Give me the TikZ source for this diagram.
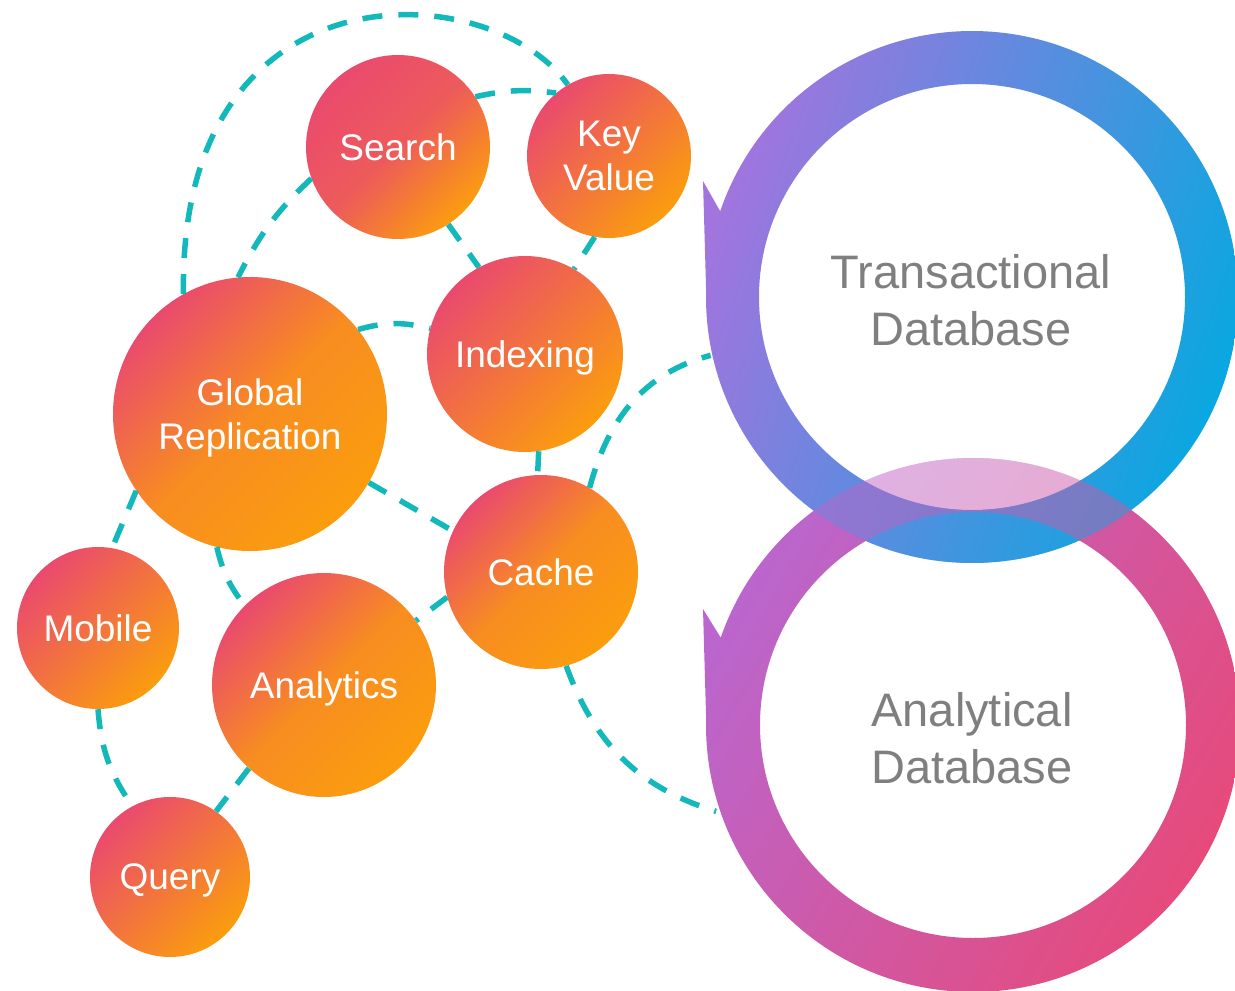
\documentclass[tikz,border=0pt]{standalone}
\usepackage{fontspec}
\setmainfont{Liberation Sans}

\definecolor{pinkc}{RGB}{234,74,110}
\definecolor{orangec}{RGB}{251,157,14}
\definecolor{linkc}{RGB}{18,184,186}
\definecolor{dbgray}{RGB}{127,127,127}
\definecolor{tpurple}{RGB}{162,116,222}
\definecolor{tcyan}{RGB}{8,168,224}
\definecolor{apurple}{RGB}{186,102,206}
\definecolor{apink}{RGB}{230,74,122}

\newcommand\bubblefont{\fontsize{37}{44}\selectfont}
\newcommand\dbfont{\fontsize{47}{57}\selectfont}

\begin{document}
\begin{tikzpicture}[
    x=1pt, y=1pt,
    bubble/.style={circle, minimum size=#1, inner sep=0pt, text depth=0pt,
        top color=pinkc, bottom color=orangec, shading angle=45,
        text=white, align=center, font=\bubblefont},
    pinker/.style={middle color=pinkc!80!orangec},
    oranger/.style={middle color=orangec!80!pinkc},
    dbtext/.style={circle, minimum size=532pt, inner sep=0pt,
        text=dbgray, align=center, font=\dbfont},
    link/.style={draw=linkc, line width=5.5pt, dash pattern=on 20pt off 16pt},
    tring/.style={even odd rule, top color=tpurple, bottom color=tcyan, shading angle=70},
    aring/.style={even odd rule, top color=apurple, bottom color=apink, shading angle=60},
  ]
\useasboundingbox (0,0) rectangle (1235,-991);

% rings
\shade[tring] (972,-297) ++(178.5:266) arc[start angle=178.5, end angle=521.2, radius=266]
    -- (703,-181) -- cycle (972,-297) circle[radius=213];
\shade[aring] (973,-725) ++(178.5:267) arc[start angle=178.5, end angle=520.9, radius=267]
    -- (703,-609) -- cycle (973,-725) circle[radius=213];
% see-through part where the rings cross
\begin{scope}
  \clip (973,-725) circle[radius=267];
  \fill[white, fill opacity=.5] (972,-297) circle[radius=213];
  \shade[tring, fill opacity=.5] (972,-297) circle[radius=266] (972,-297) circle[radius=213];
\end{scope}

\node[dbtext] (tdb) at (971,-300) {Transactional\\Database};
\node[dbtext] (adb) at (972,-738) {Analytical\\Database};

% bubbles
\node[bubble=184pt, pinker] (search) at (398,-147) {Search};
\node[bubble=164pt] (kv) at (609,-156) {Key\\Value};
\node[bubble=274pt, oranger] (gr) at (250,-414) {Global\\Replication};
\node[bubble=196pt] (idx) at (525,-354) {Indexing};
\node[bubble=194pt, oranger] (cache) at (541,-572) {Cache};
\node[bubble=162pt] (mobile) at (98,-628) {Mobile};
\node[bubble=224pt, oranger] (ana) at (324,-685) {Analytics};
\node[bubble=160pt] (query) at (170,-877) {Query};

% links
\draw[link] (gr.119) .. controls (178,40) and (490,25) .. (kv.120);
\draw[link] (search.33) to[bend left=10] (kv.130);
\draw[link] (search.200) to[bend right=10] (gr.95);
\draw[link] (search.-57) -- (idx.118);
\draw[link] (kv.-100) -- (idx.60);
\draw[link] (gr.38) to[bend left=15] (idx.165);
\draw[link] (idx.-82) -- (cache.92);
\draw[link] (gr.-30) -- (cache.155);
\draw[link] (cache.195) -- (ana.35);
\draw[link] (gr.-104) to[bend right=12] (ana.135);
\draw[link] (gr.-146) -- (mobile.80);
\draw[link] (mobile.-90) to[bend right=15] (query.118);
\draw[link] (ana.-132) -- (query.55);
\draw[link] (cache.60) to[out=75, in=195] (tdb.192);
\draw[link] (cache.-75) to[out=-70, in=163] (adb.196);
\end{tikzpicture}
\end{document}
